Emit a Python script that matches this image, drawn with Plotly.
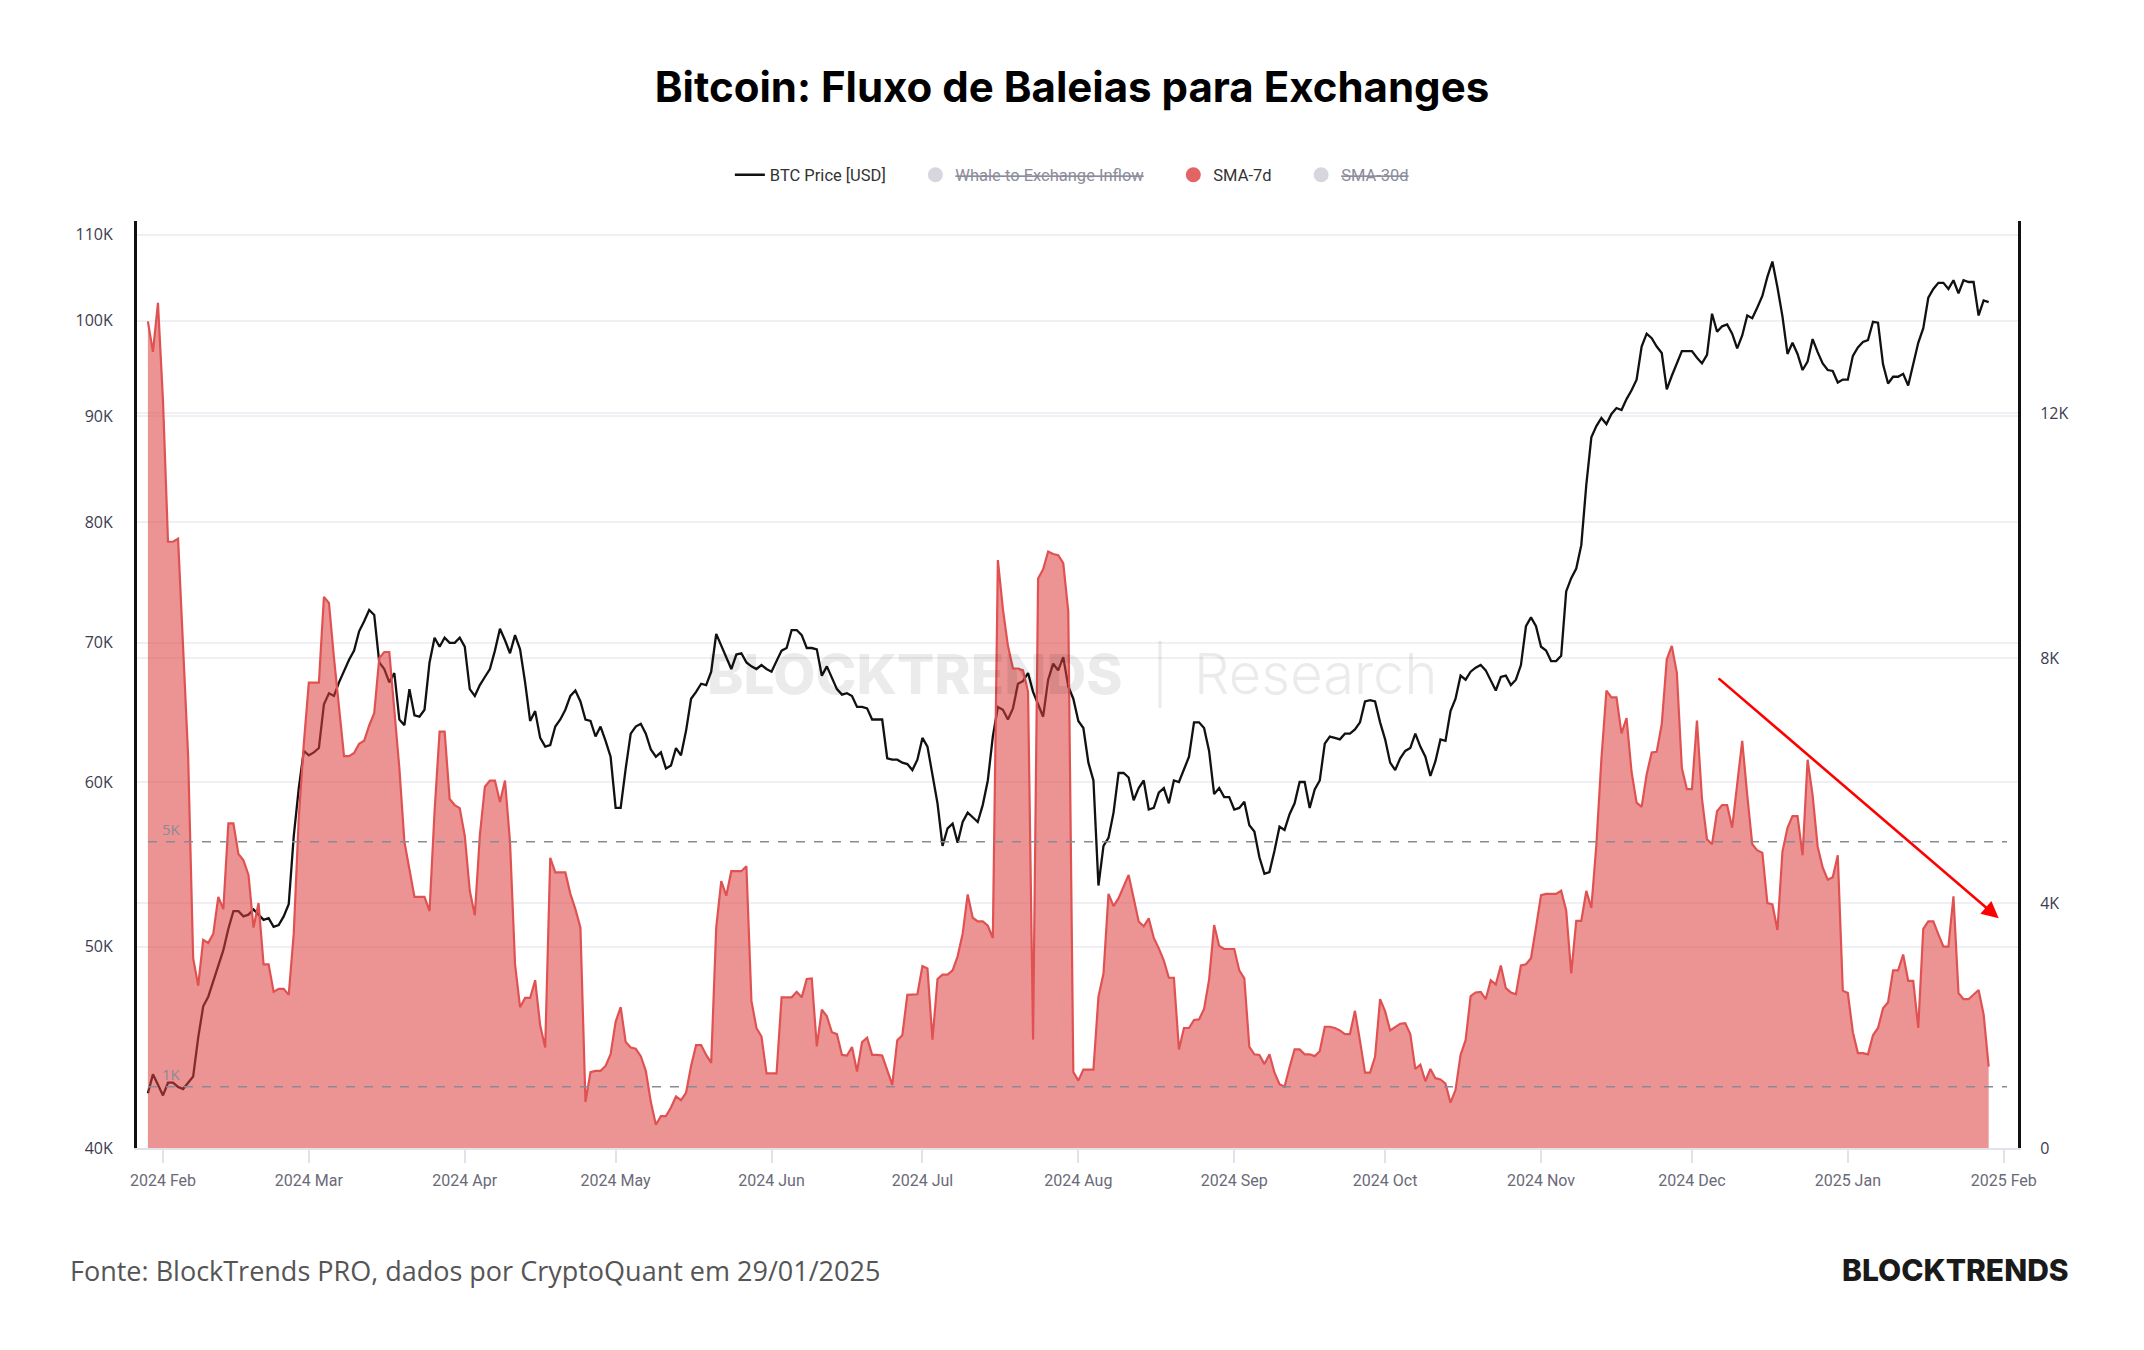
import math
import pandas as pd
import plotly.graph_objects as go

# ---------------- data ----------------
start_date = "2024-01-29"

# BTC price, thousands of USD, one value per day from start_date
price_k = [
    42.5, 43.4, 42.9, 42.4, 43.0, 43.0, 42.8, 42.7, 43.0, 43.3,
    45.2, 46.8, 47.3, 48.1, 48.9, 49.8, 51.0, 52.0, 52.0, 51.7,
    51.8, 52.1, 51.8, 51.5, 51.6, 51.1, 51.2, 51.7, 52.4, 56.5,
    59.6, 62.1, 61.8, 62.0, 62.3, 65.4, 66.2, 66.0, 67.0, 67.9,
    68.7, 69.4, 70.9, 71.7, 72.6, 72.2, 68.5, 68.0, 67.0, 67.7,
    64.3, 63.9, 66.5, 64.6, 64.5, 65.0, 68.5, 70.4, 69.7, 70.4,
    70.0, 70.0, 70.4, 69.7, 66.5, 66.0, 66.8, 67.4, 68.0, 69.4,
    71.1, 70.2, 69.2, 70.6, 69.5, 67.0, 64.2, 64.9, 63.0, 62.4,
    62.5, 63.8, 64.3, 65.0, 66.0, 66.4, 65.6, 64.3, 64.2, 63.1,
    63.8, 62.8, 61.7, 58.3, 58.3, 60.9, 63.3, 63.8, 64.0, 63.3,
    62.2, 61.7, 62.0, 60.9, 61.1, 62.3, 61.8, 63.5, 65.8, 66.3,
    66.9, 66.8, 67.8, 70.7, 69.8, 68.8, 68.0, 69.1, 69.2, 68.5,
    68.2, 68.0, 68.3, 68.0, 67.8, 68.6, 69.4, 69.6, 71.0, 71.0,
    70.6, 69.6, 69.6, 69.5, 67.5, 68.2, 67.4, 66.5, 66.1, 66.2,
    66.0, 65.2, 65.2, 65.1, 64.3, 64.3, 64.3, 61.6, 61.5, 61.5,
    61.3, 61.2, 60.8, 61.5, 63.0, 62.4, 60.6, 58.6, 55.9, 57.0,
    57.3, 56.1, 57.4, 58.0, 57.7, 57.4, 58.5, 60.1, 63.1, 65.2,
    65.0, 64.3, 65.1, 66.9, 67.1, 67.7, 66.3, 65.4, 64.5, 67.2,
    68.4, 67.9, 68.9, 66.7, 65.8, 64.2, 63.7, 61.3, 60.1, 53.5,
    55.9, 56.4, 58.0, 60.6, 60.6, 60.3, 58.8, 59.6, 60.1, 58.2,
    58.3, 59.3, 59.6, 58.6, 60.1, 60.0, 60.8, 61.7, 64.1, 64.1,
    63.7, 62.1, 59.2, 59.6, 59.0, 59.0, 58.2, 58.3, 58.7, 57.2,
    56.8, 55.2, 54.2, 54.3, 55.6, 57.1, 56.9, 57.9, 58.6, 60.0,
    60.0, 58.3, 59.5, 60.1, 62.6, 63.1, 63.0, 62.9, 63.3, 63.3,
    63.6, 64.1, 65.6, 65.7, 65.6, 64.1, 62.9, 61.3, 60.8, 61.6,
    62.1, 62.3, 63.3, 62.4, 61.7, 60.4, 61.4, 62.9, 62.8, 64.9,
    65.8, 67.5, 67.2, 67.8, 68.1, 68.3, 67.9, 67.2, 66.4, 67.4,
    67.5, 66.8, 67.2, 68.3, 71.3, 72.0, 71.3, 69.7, 69.4, 68.6,
    68.6, 69.0, 74.1, 75.2, 76.0, 78.0, 83.4, 87.9, 89.0, 89.8,
    89.2, 90.2, 90.8, 90.6, 91.7, 92.6, 93.7, 97.2, 98.6, 98.1,
    97.2, 96.5, 92.7, 94.1, 95.4, 96.7, 96.7, 96.7, 96.0, 95.4,
    96.3, 100.8, 98.8, 99.4, 99.6, 98.6, 97.0, 98.4, 100.6, 100.3,
    101.5, 102.8, 105.0, 106.8, 103.8, 100.5, 96.4, 97.6, 96.4, 94.7,
    95.6, 98.0, 96.6, 95.4, 94.7, 94.6, 93.4, 93.7, 93.7, 96.2,
    97.1, 97.7, 97.9, 99.9, 99.8, 95.3, 93.3, 94.0, 94.0, 94.3,
    93.1, 95.2, 97.6, 99.2, 102.6, 103.6, 104.3, 104.3, 103.6, 104.6,
    103.1, 104.6, 104.4, 104.4, 100.6, 102.3, 102.1,
]

# Whale to Exchange Inflow, 7-day SMA, thousands of BTC
sma7_k = [
    13.5, 13.0, 13.8, 12.2, 9.9, 9.9, 9.95, 8.2, 6.4, 3.1,
    2.65, 3.4, 3.35, 3.5, 4.1, 3.9, 5.3, 5.3, 4.8, 4.7,
    4.46, 3.6, 4.0, 3.0, 3.0, 2.55, 2.6, 2.6, 2.5, 3.5,
    5.4, 6.6, 7.6, 7.6, 7.6, 9.0, 8.9, 8.0, 7.2, 6.4,
    6.4, 6.45, 6.6, 6.65, 6.9, 7.1, 8.0, 8.1, 8.1, 7.2,
    6.2, 5.0, 4.55, 4.1, 4.1, 4.1, 3.87, 5.5, 6.8, 6.8,
    5.7, 5.6, 5.55, 5.1, 4.2, 3.8, 5.1, 5.9, 6.0, 6.0,
    5.65, 6.0, 5.0, 3.0, 2.3, 2.45, 2.45, 2.74, 2.0, 1.64,
    4.74, 4.5, 4.5, 4.5, 4.15, 3.9, 3.6, 0.75, 1.24, 1.26,
    1.26, 1.34, 1.53, 2.06, 2.3, 1.73, 1.64, 1.62, 1.5, 1.26,
    0.75, 0.38, 0.52, 0.52, 0.66, 0.84, 0.78, 0.9, 1.34, 1.68,
    1.68, 1.52, 1.39, 3.6, 4.36, 4.12, 4.52, 4.52, 4.52, 4.6,
    2.4, 1.96, 1.82, 1.22, 1.22, 1.22, 2.46, 2.46, 2.46, 2.55,
    2.46, 2.76, 2.77, 1.66, 2.26, 2.15, 1.89, 1.86, 1.52, 1.51,
    1.65, 1.25, 1.73, 1.8, 1.52, 1.52, 1.51, 1.27, 1.03, 1.76,
    1.84, 2.5, 2.51, 2.51, 2.97, 2.93, 1.77, 2.76, 2.83, 2.83,
    2.9, 3.13, 3.5, 4.14, 3.76, 3.7, 3.7, 3.63, 3.43, 9.6,
    8.8, 8.2, 7.83, 7.83, 7.8, 7.45, 1.77, 9.3, 9.45, 9.74,
    9.7, 9.68, 9.55, 8.76, 1.24, 1.1, 1.28, 1.28, 1.28, 2.47,
    2.85, 4.15, 3.95, 4.08, 4.26, 4.46, 4.08, 3.7, 3.62, 3.75,
    3.43, 3.26, 3.06, 2.78, 2.78, 1.61, 1.96, 1.96, 2.09, 2.1,
    2.27, 2.75, 3.64, 3.3, 3.25, 3.25, 3.25, 2.9, 2.77, 1.65,
    1.53, 1.52, 1.37, 1.53, 1.23, 1.04, 1.0, 1.32, 1.61, 1.61,
    1.53, 1.53, 1.5, 1.58, 1.98, 1.98, 1.96, 1.92, 1.86, 1.86,
    2.24, 1.75, 1.23, 1.23, 1.49, 2.43, 2.23, 1.92, 1.98, 2.03,
    2.04, 1.86, 1.29, 1.36, 1.09, 1.29, 1.14, 1.12, 1.05, 0.74,
    0.95, 1.52, 1.76, 2.48, 2.54, 2.55, 2.43, 2.74, 2.67, 2.98,
    2.61, 2.54, 2.51, 2.98, 3.0, 3.1, 3.6, 4.13, 4.15, 4.15,
    4.15, 4.2, 3.88, 2.85, 3.71, 3.71, 4.2, 3.92, 4.95, 6.35,
    7.47, 7.36, 7.36, 6.77, 7.02, 6.14, 5.64, 5.57, 6.1, 6.46,
    6.47, 6.92, 7.98, 8.2, 7.76, 6.2, 5.86, 5.86, 6.98, 5.7,
    5.04, 4.96, 5.5, 5.6, 5.6, 5.23, 5.9, 6.65, 5.76, 4.96,
    4.86, 4.82, 4.0, 3.98, 3.56, 4.84, 5.23, 5.42, 5.42, 4.78,
    6.34, 5.76, 4.92, 4.58, 4.38, 4.42, 4.78, 2.57, 2.53, 1.89,
    1.55, 1.55, 1.53, 1.84, 1.96, 2.28, 2.38, 2.9, 2.9, 3.16,
    2.73, 2.73, 1.96, 3.58, 3.7, 3.7, 3.49, 3.29, 3.29, 4.11,
    2.53, 2.43, 2.43, 2.5, 2.58, 2.18, 1.33,
]

left_tick_vals = [40000, 50000, 60000, 70000, 80000, 90000, 100000, 110000]
left_tick_text = ["40K", "50K", "60K", "70K", "80K", "90K", "100K", "110K"]
right_tick_vals = [0, 4000, 8000, 12000]
right_tick_text = ["0", "4K", "8K", "12K"]
x_tick_vals = ["2024-02-01", "2024-03-01", "2024-04-01", "2024-05-01", "2024-06-01",
               "2024-07-01", "2024-08-01", "2024-09-01", "2024-10-01", "2024-11-01",
               "2024-12-01", "2025-01-01", "2025-02-01"]
x_tick_text = ["2024 Feb", "2024 Mar", "2024 Apr", "2024 May", "2024 Jun", "2024 Jul",
               "2024 Aug", "2024 Sep", "2024 Oct", "2024 Nov", "2024 Dec", "2025 Jan",
               "2025 Feb"]
ref_levels = [5000, 1000]
ref_labels = ["5K", "1K"]
trend_from = ("2024-12-06", 7690)
trend_to = ("2025-01-31", 3750)

# ---------------- figure ----------------
dates = pd.date_range(start_date, periods=len(price_k), freq="D")
price = [v * 1000 for v in price_k]
sma7 = [v * 1000 for v in sma7_k]

W, H = 2144, 1350
ML, MR, MT, MB = 137, 126, 221, 202
PW, PH = W - ML - MR, H - MT - MB
PAD = "\u00a0" * 6


def px_x(px):
    return (px - ML) / PW


def px_y(py):
    return (H - MB - py) / PH


fig = go.Figure()
fig.add_trace(go.Scatter(
    x=dates, y=price, mode="lines", name="BTC Price [USD]" + PAD,
    line=dict(color="#111111", width=2.3), yaxis="y", hoverinfo="skip"))
fig.add_trace(go.Scatter(
    x=[None], y=[None], mode="markers", yaxis="y2",
    name='<span style="color:#8c8c9a"><s>Whale to Exchange Inflow</s></span>' + PAD,
    marker=dict(color="#d6d6de", size=15)))
fig.add_trace(go.Scatter(
    x=dates, y=sma7, mode="lines", fill="tozeroy", yaxis="y2",
    fillcolor="rgba(221,64,64,0.56)", line=dict(color="#e05252", width=2.2),
    name="SMA-7d", showlegend=False, hoverinfo="skip"))
fig.add_trace(go.Scatter(
    x=[None], y=[None], mode="markers", yaxis="y2", name="SMA-7d" + PAD,
    marker=dict(color="#e36464", size=15)))
fig.add_trace(go.Scatter(
    x=[None], y=[None], mode="markers", yaxis="y2",
    name='<span style="color:#8c8c9a"><s>SMA-30d</s></span>',
    marker=dict(color="#d6d6de", size=15)))

shapes = []
annotations = []
for lvl, lab in zip(ref_levels, ref_labels):
    shapes.append(dict(type="line", xref="paper", yref="y2", x0=px_x(148), x1=px_x(2007),
                       y0=lvl, y1=lvl, layer="above",
                       line=dict(color="#8a8a96", width=1.6, dash="dash")))
    annotations.append(dict(text=lab, xref="paper", yref="y2", x=px_x(160), y=lvl,
                            xanchor="left", yanchor="bottom", yshift=1, showarrow=False,
                            font=dict(family="Open Sans", size=15, color="#8a8a96")))

# watermark
annotations.append(dict(text="BLOCKTRENDS", xref="paper", yref="paper", x=px_x(1124), y=px_y(674),
                        xanchor="right", yanchor="middle", showarrow=False,
                        font=dict(family="Inter", size=55, color="rgba(0,0,0,0.08)", weight=800)))
annotations.append(dict(text="Research", xref="paper", yref="paper", x=px_x(1192), y=px_y(674),
                        xanchor="left", yanchor="middle", showarrow=False,
                        font=dict(family="Inter", size=56, color="rgba(0,0,0,0.08)", weight=300)))
shapes.append(dict(type="line", xref="paper", yref="paper", x0=px_x(1160), x1=px_x(1160),
                   y0=px_y(708), y1=px_y(641), layer="above",
                   line=dict(color="rgba(0,0,0,0.08)", width=3)))

# trend arrow
annotations.append(dict(x=trend_to[0], y=trend_to[1], xref="x", yref="y2",
                        ax=trend_from[0], ay=trend_from[1], axref="x", ayref="y2",
                        text="", showarrow=True, arrowhead=2, arrowsize=1.3,
                        arrowwidth=2.6, arrowcolor="#ff0000"))

# footer
annotations.append(dict(text="Fonte: BlockTrends PRO, dados por CryptoQuant em 29/01/2025",
                        xref="paper", yref="paper", x=px_x(68), y=px_y(1270),
                        xanchor="left", yanchor="middle", showarrow=False,
                        font=dict(family="Open Sans", size=27, color="#555555")))
annotations.append(dict(text="BLOCKTRENDS", xref="paper", yref="paper", x=px_x(2071), y=px_y(1270),
                        xanchor="right", yanchor="middle", showarrow=False,
                        font=dict(family="Inter", size=30, color="#1a1a1a", weight=800)))

fig.update_layout(
    width=W, height=H,
    margin=dict(l=ML, r=MR, t=MT, b=MB, pad=0),
    paper_bgcolor="white", plot_bgcolor="white",
    title=dict(text="Bitcoin: Fluxo de Baleias para Exchanges", x=0.5, xanchor="center",
               y=1 - 87 / H, yanchor="middle", yref="container",
               font=dict(family="Inter", size=42, color="#000000", weight=700)),
    legend=dict(orientation="h", x=0.497, xanchor="center", y=px_y(175), yanchor="middle",
                font=dict(family="Roboto", size=16.5, color="#333333"),
                bgcolor="rgba(0,0,0,0)", itemclick=False, itemdoubleclick=False),
    xaxis=dict(type="date", range=["2024-01-26 20:00", "2025-02-03 20:00"],
               tickvals=x_tick_vals, ticktext=x_tick_text,
               ticks="outside", ticklen=13, tickwidth=1.5, tickcolor="#e2e2ea",
               showgrid=False, showline=True, linecolor="#e2e2ea", linewidth=1.5,
               zeroline=False, ticklabelstandoff=4,
               tickfont=dict(family="Roboto", size=16, color="#6a6a78")),
    yaxis=dict(type="log", range=[math.log10(40000), math.log10(111700)],
               tickvals=left_tick_vals, ticktext=left_tick_text,
               showline=True, linecolor="#111111", linewidth=3,
               showgrid=True, gridcolor="#f0f0f4", gridwidth=1.5, zeroline=False,
               ticks="", ticklabelstandoff=18,
               tickfont=dict(family="Open Sans", size=16, color="#3c3c50")),
    yaxis2=dict(overlaying="y", side="right", range=[0, 15138],
                tickvals=right_tick_vals, ticktext=right_tick_text,
                showline=True, linecolor="#111111", linewidth=3,
                showgrid=True, gridcolor="#f0f0f4", gridwidth=1.5, zeroline=False,
                ticks="", ticklabelstandoff=16,
                tickfont=dict(family="Open Sans", size=16, color="#3c3c50")),
    shapes=shapes, annotations=annotations, showlegend=True,
)

fig.write_html("out.html")
